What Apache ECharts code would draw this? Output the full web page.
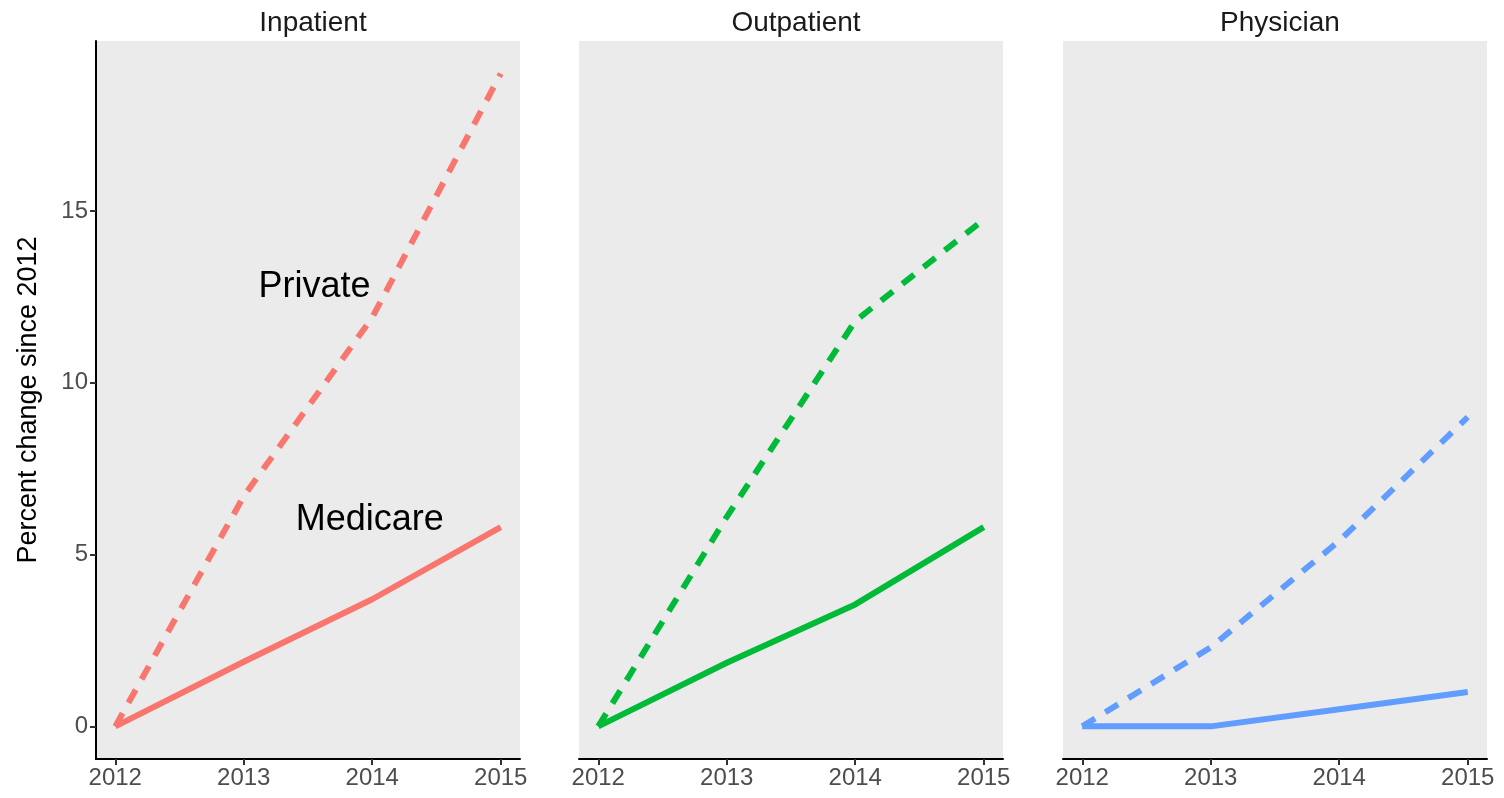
<!DOCTYPE html>
<html>
<head>
<meta charset="utf-8">
<script src="https://cdn.jsdelivr.net/npm/echarts@6/dist/echarts.min.js"></script>
<style>
html,body{margin:0;padding:0;background:#fff;}
#chart{width:1504px;height:798px;}
</style>
</head>
<body>
<div id="chart"></div>
<script>
const years = [2012, 2013, 2014, 2015];
const xTickLabels = [2012, 2013, 2014, 2015];
const yTickLabels = [0, 5, 10, 15];
const panelNames = ['Inpatient', 'Outpatient', 'Physician'];
const panelColors = ['#F8766D', '#00BA38', '#619CFF'];

const inpatientPrivate = [0, 6.7, 11.9, 19.0];
const inpatientMedicare = [0, 1.88, 3.7, 5.8];
const outpatientPrivate = [0, 6.1, 11.8, 14.75];
const outpatientMedicare = [0, 1.85, 3.55, 5.8];
const physicianPrivate = [0, 2.3, 5.4, 9.0];
const physicianMedicare = [0, 0, 0.5, 1.0];

const annotationLabels = ['Private', 'Medicare'];
const annotationX = [2013.55, 2013.98];
const annotationY = [12.8, 6.0];

const privateSeries = [inpatientPrivate, outpatientPrivate, physicianPrivate];
const medicareSeries = [inpatientMedicare, outpatientMedicare, physicianMedicare];

const FONT = "'Liberation Sans', Arial, sans-serif";
const gridLefts = [96, 579, 1063];
const gridWidth = 424;
const gridTop = 41;
const gridHeight = 718;

const chart = echarts.init(document.getElementById('chart'));

const grids = gridLefts.map(l => ({
  left: l, top: gridTop, width: gridWidth, height: gridHeight,
  show: true, backgroundColor: '#EBEBEB', borderWidth: 0, containLabel: false
}));

const titles = panelNames.map((n, i) => ({
  text: n,
  left: gridLefts[i] + gridWidth / 2,
  top: 4,
  textAlign: 'center',
  textStyle: {fontFamily: FONT, fontSize: 28, fontWeight: 'normal', color: '#1A1A1A'}
}));

const xAxes = panelNames.map((n, i) => ({
  type: 'value', gridIndex: i, min: 2011.85, max: 2015.15,
  axisLine: {show: true, onZero: false, lineStyle: {color: '#000', width: 2}},
  axisTick: {show: true, length: 6, customValues: xTickLabels, lineStyle: {color: '#333', width: 2}},
  axisLabel: {show: true, customValues: xTickLabels, formatter: v => String(v), fontFamily: FONT, fontSize: 24, color: '#4D4D4D', margin: 7},
  splitLine: {show: false}
}));

const yAxes = panelNames.map((n, i) => ({
  type: 'value', gridIndex: i, min: -0.95, max: 19.95,
  name: i === 0 ? 'Percent change since 2012' : '',
  nameLocation: 'middle', nameRotate: 90, nameGap: 54,
  nameTextStyle: {fontFamily: FONT, fontSize: 27, color: '#000'},
  axisLine: {show: i === 0, lineStyle: {color: '#000', width: 2}},
  axisTick: {show: i === 0, length: 6, customValues: yTickLabels, lineStyle: {color: '#333', width: 2}},
  axisLabel: {show: i === 0, customValues: yTickLabels, fontFamily: FONT, fontSize: 24, color: '#4D4D4D', margin: 8},
  splitLine: {show: false}
}));

const series = [];
panelNames.forEach((n, i) => {
  series.push({
    type: 'line', xAxisIndex: i, yAxisIndex: i, symbol: 'none', silent: true,
    data: years.map((y, k) => [y, privateSeries[i][k]]),
    lineStyle: {color: panelColors[i], width: 6, type: [15, 12], cap: 'butt', join: 'round'}
  });
  series.push({
    type: 'line', xAxisIndex: i, yAxisIndex: i, symbol: 'none', silent: true,
    data: years.map((y, k) => [y, medicareSeries[i][k]]),
    lineStyle: {color: panelColors[i], width: 6, type: 'solid', cap: 'butt', join: 'round'}
  });
});

series.push({
  type: 'scatter', xAxisIndex: 0, yAxisIndex: 0, symbolSize: 1, silent: true,
  itemStyle: {color: '#EBEBEB', opacity: 1},
  data: annotationLabels.map((t, k) => ({value: [annotationX[k], annotationY[k]], name: t})),
  label: {show: true, position: 'inside', formatter: p => p.name, fontFamily: FONT, fontSize: 36, color: '#000000', opacity: 1, textBorderWidth: 0}
});

chart.setOption({
  animation: false,
  backgroundColor: '#fff',
  title: titles,
  grid: grids,
  xAxis: xAxes,
  yAxis: yAxes,
  series: series
});
</script>
</body>
</html>
